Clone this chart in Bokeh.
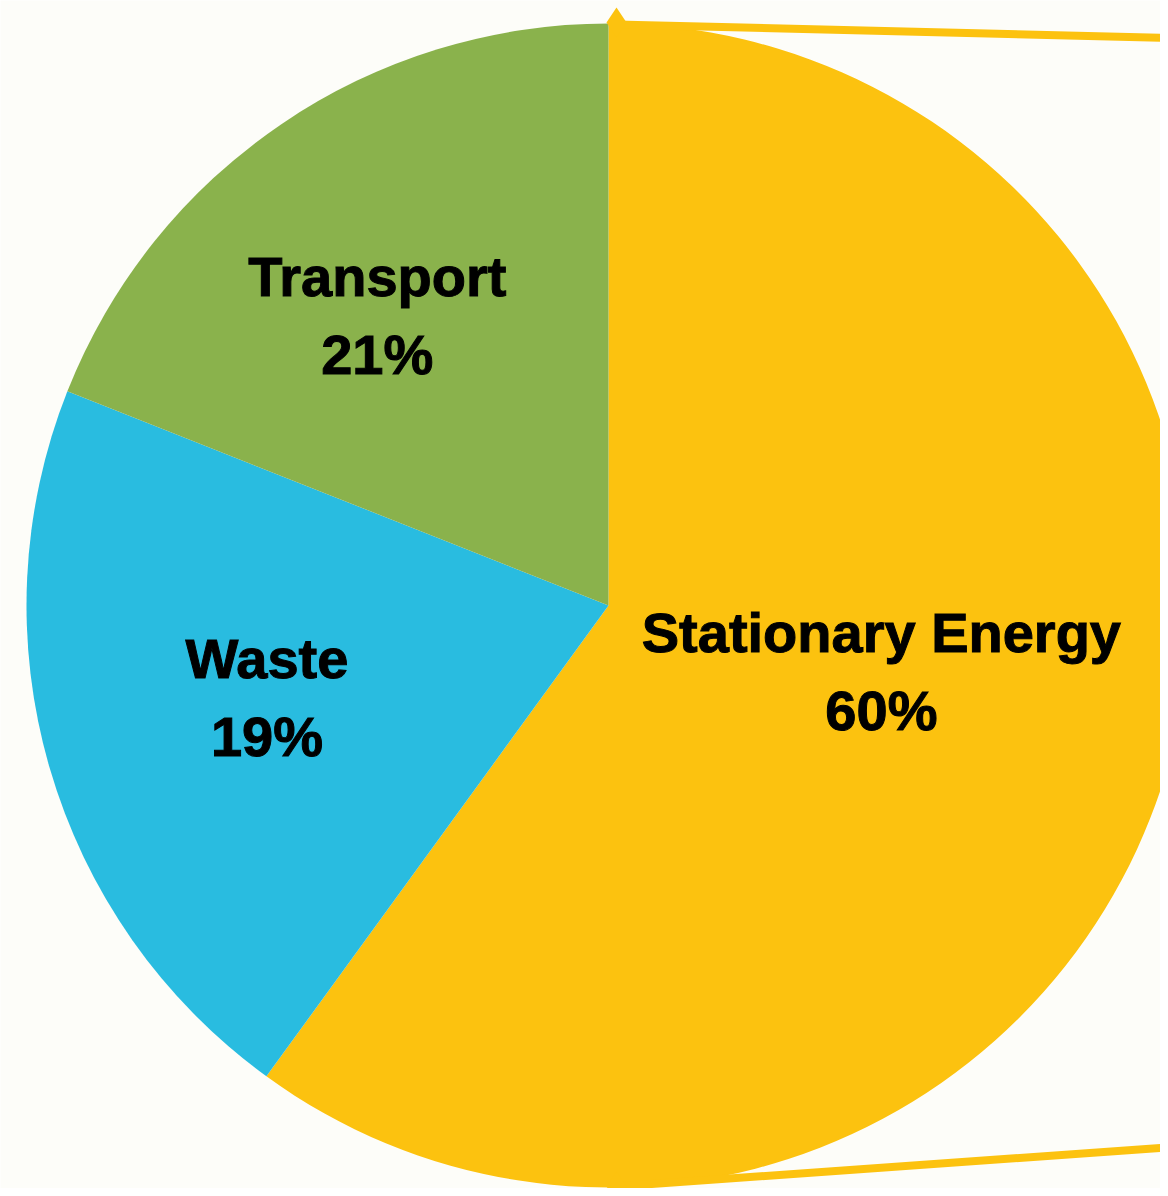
import math
from bokeh.plotting import figure
from bokeh.models import Range1d, ColumnDataSource
from bokeh.core.properties import value
from bokeh.embed import file_html
from bokeh.resources import INLINE

# ---- data (clockwise from 12 o'clock) ----
sectors = ["Stationary Energy", "Waste", "Transport"]
shares = [60, 21, 19]              # slice sweep as drawn in the picture
pct_text = ["60%", "19%", "21%"]   # percentages as printed on the slices
colors = ["#FCC20F", "#29BCE0", "#8AB24C"]

# ---- layout ----
BG = "#FDFDF9"
R = 582
CX, CY = 608, 605           # pie centre in pixels
W, H = 1160, 1188
label_rfrac = [0.493, 0.62, 0.606]
label_dx = [0, 5, -33]
label_dy = [22, 8, -3]
half_gap = 40

p = figure(width=W, height=H, output_backend="svg", toolbar_location=None,
           x_range=Range1d(-CX, W - CX), y_range=Range1d(CY - H, CY),
           min_border=0, background_fill_color=BG, border_fill_color=BG)
p.axis.visible = False
p.grid.visible = False
p.outline_line_color = None

total = sum(shares)
starts, ends, mids = [], [], []
cum = 0.0
for s in shares:
    a0 = math.pi / 2 - 2 * math.pi * cum / total
    cum += s
    a1 = math.pi / 2 - 2 * math.pi * cum / total
    starts.append(a1)
    ends.append(a0)
    mids.append((a0 + a1) / 2)

src = ColumnDataSource(dict(start=starts, end=ends, color=colors, name=sectors))
p.wedge(x=0, y=0, radius=R, start_angle="start", end_angle="end",
        direction="anticlock", fill_color="color", line_color=None, source=src)

# connector lines to the (cropped) breakout on the right
gold = colors[0]
top_y = R + 1
bot_y = -R + 1
p.segment(x0=[8, 8], y0=[top_y - 2, bot_y], x1=[700, 700], y1=[top_y - 19, bot_y + 49],
          line_color=gold, line_width=8)
p.scatter(x=[8, 8], y=[top_y, bot_y], marker="diamond", size=30,
          fill_color=gold, line_color=None)

# labels
lx, ly1, ly2 = [], [], []
for i, m in enumerate(mids):
    ax = R * label_rfrac[i] * math.cos(m) + label_dx[i]
    ay = R * label_rfrac[i] * math.sin(m) + label_dy[i]
    lx.append(ax)
    ly1.append(ay + half_gap)
    ly2.append(ay - half_gap + 2)

for ys, txt in ((ly1, sectors), (ly2, pct_text)):
    p.text(x=lx, y=ys, text=txt, text_align="center", text_baseline="alphabetic",
           text_font=value("Liberation Sans"), text_font_style="bold",
           text_font_size="56px", text_color="#000000",
           text_outline_color="#000000")

open("out.html", "w").write(file_html(p, INLINE))
